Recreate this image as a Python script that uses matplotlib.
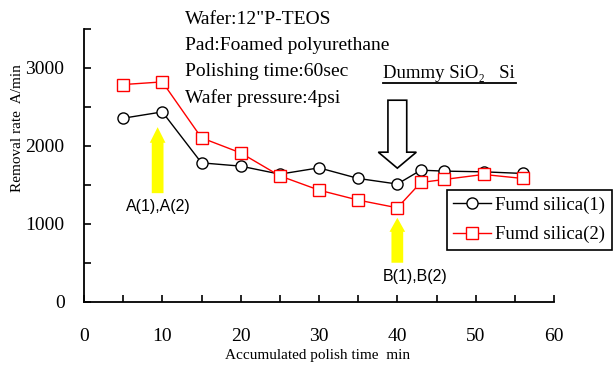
import matplotlib
matplotlib.use("Agg")
import matplotlib.pyplot as plt
from matplotlib.lines import Line2D

plt.rcParams['font.family'] = ['Liberation Serif', 'DejaVu Serif']

# polish time (min) and removal rate (A/min)
time = [5, 10, 15, 20, 25, 30, 35, 40, 43, 46, 51, 56]
rate1 = [2355, 2436, 1782, 1740, 1637, 1718, 1582, 1510, 1688, 1676, 1667, 1646]
rate2 = [2787, 2821, 2103, 1910, 1615, 1432, 1304, 1205, 1530, 1569, 1633, 1582]
labels = ["Fumd silica(1)", "Fumd silica(2)"]
conditions = ['Wafer:12"P-TEOS', "Pad:Foamed polyurethane",
              "Polishing time:60sec", "Wafer pressure:4psi"]

W, H = 615, 365
fig = plt.figure(figsize=(6.15, 3.65), dpi=100)
ax = fig.add_axes([84 / W, 1 - 301.7 / H, 470 / W, 272.7 / H])

ax.plot(time, rate1, '-o', color='black', lw=1, ms=8, mfc='white', mec='black', mew=1, label=labels[0])
ax.plot(time, rate2, '-s', color='red', lw=1, ms=8, mfc='white', mec='red', mew=1, label=labels[1])

ax.set_xlim(0, 60)
ax.set_ylim(0, 3500)
ax.set_xticks(range(0, 61, 10))
ax.set_xticks(range(0, 61, 5), minor=True)
ax.set_yticks(range(0, 3001, 1000))
ax.set_yticks(range(0, 3501, 500), minor=True)
ax.spines['top'].set_visible(False)
ax.spines['right'].set_visible(False)
for s in ['left', 'bottom']:
    ax.spines[s].set_linewidth(1.3)
ax.tick_params(which='both', direction='in', length=5, width=1.2, labelsize=14)
ax.tick_params(axis='x', pad=19)
ax.tick_params(axis='y', pad=14)
ax.patch.set_visible(False)

fig.text(18 / W, 1 - 128 / H, "Removal rate  A/min", rotation=90, fontsize=11, ha='center', va='center')
fig.text(318 / W, 1 - 356 / H, "Accumulated polish time  min", fontsize=11, ha='center', va='center')

for i, t in enumerate(conditions):
    fig.text(185 / W, 1 - (20 + 26 * i) / H, t, fontsize=14, ha='left', va='center')

fig.text(383 / W, 1 - 73 / H, "Dummy SiO\u2082   Si", fontsize=13.5, ha='left', va='center')
fig.add_artist(Line2D([383 / W, 516 / W], [1 - 83 / H, 1 - 83 / H], color='black', lw=1.3))

# arrows
ax.arrow(9.4, 1393, 0, 2240 - 1393, width=1.5, head_width=2.0, head_length=200,
         length_includes_head=True, color='yellow', lw=0)
ax.arrow(40.0, 500, 0, 1077 - 500, width=1.5, head_width=2.0, head_length=180,
         length_includes_head=True, color='yellow', lw=0)
ax.arrow(40.0, 2586, 0, 1714 - 2586, width=2.4, head_width=4.85, head_length=205,
         length_includes_head=True, fc='white', ec='black', lw=1.2, clip_on=False)

fig.text(158 / W, 1 - 206 / H, "A(1),A(2)", fontsize=11.5, family='Liberation Sans', ha='center', va='center')
fig.text(415 / W, 1 - 277 / H, "B(1),B(2)", fontsize=11.5, family='Liberation Sans', ha='center', va='center')

leg = fig.legend(loc='upper left', bbox_to_anchor=(446.7 / W, 1 - 190 / H), fontsize=13.5,
                 frameon=True, fancybox=False, edgecolor='black', framealpha=1,
                 handlelength=2.0, borderpad=0.35, labelspacing=0.65, handletextpad=0.25,
                 borderaxespad=0)
leg.get_frame().set_linewidth(1.2)

fig.savefig("out.png", dpi=100)
